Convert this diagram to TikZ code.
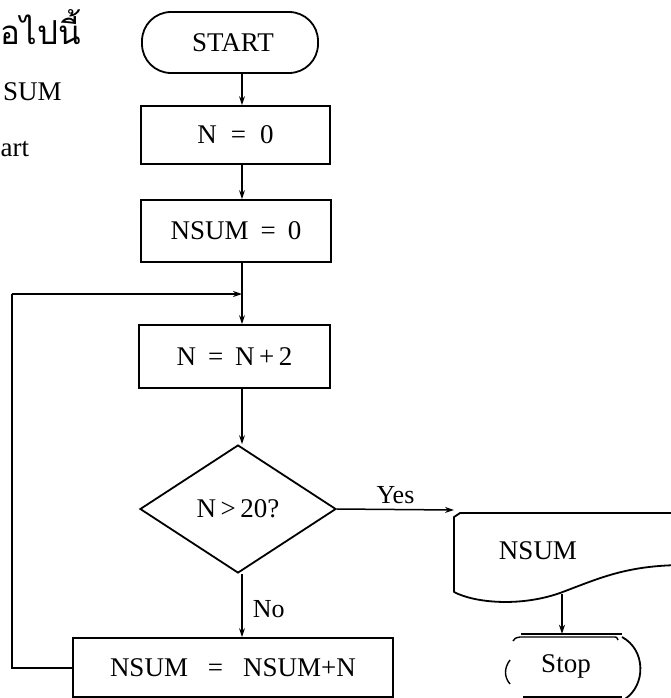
\documentclass[tikz,border=0pt]{standalone}
\usepackage{fontspec}
\setmainfont{Liberation Serif}
\newfontfamily\thaifont[Script=Thai]{Loma}
\usetikzlibrary{shapes.geometric,arrows.meta}

\begin{document}
\begin{tikzpicture}[x=1pt,y=-1pt,
    every node/.style={font=\fontsize{27}{30}\selectfont, inner sep=0pt},
    procbox/.style={draw, line width=1.8pt, minimum width=#1, minimum height=60pt},
    decision/.style={draw, line width=1.8pt, diamond, aspect=1.52,
                     minimum width=196pt, minimum height=128pt},
    flow/.style={line width=1.5pt, -{Stealth[length=9pt,width=6pt]}},
    shapeline/.style={line width=1.8pt, line join=round},
    lbl/.style={font=\fontsize{26}{30}\selectfont}]
  \useasboundingbox (0,0) rectangle (671,698);

  % text of the page beside the chart
  \node[anchor=base west, font=\thaifont\fontsize{33}{36}\selectfont] (th) at (0.5,45) {อไปนี้};
  \node[anchor=base west] (t1) at (3,101) {SUM};
  \node[anchor=base west] (t2) at (0.5,156) {art};

  % main column of the flowchart
  \coordinate (spine) at (242,0);
  \node[draw, line width=1.8pt, rounded corners=29pt, minimum width=176pt,
        minimum height=61pt] (start) at (230,42.5) {\hspace{6pt}START};
  \node[procbox=189pt, minimum height=58pt] (n0) at (235.5,135) {N\hspace{14pt}=\hspace{14pt}0};
  \node[procbox=190pt, minimum height=62pt] (s0) at (236,231) {NSUM\hspace{12pt}=\hspace{12pt}0};
  \node[procbox=191pt, minimum height=63pt] (inc) at (234.5,356.5) {N\hspace{12pt}=\hspace{12pt}N\,+\,2};
  \node[decision] (dec) at (238,509) {N\,\textgreater\,20?};
  \node[procbox=320pt, minimum height=59pt] (acc) at (233,667.5) {NSUM\hspace{20pt}=\hspace{20pt}NSUM+N};

  \coordinate (merge) at (242,294);
  \draw[flow] (start.south -| spine) -- (n0.north -| spine);
  \draw[flow] (n0.south -| spine) -- (s0.north -| spine);
  \draw[flow] (s0.south -| spine) -- (inc.north -| spine);
  \draw[flow] (inc.south -| spine) -- (dec.north -| spine);
  \draw[flow] (dec.south -| spine) -- node[lbl, right=10pt, pos=0.55] (no) {No} (acc.north -| spine);

  % loop back from the sum to the increment
  \coordinate (lb) at (12,667.5);
  \coordinate (lt) at (12,294);
  \draw[line width=2pt] (acc.west) -- (lb) -- (lt);
  \draw[flow, line width=2pt] (lt) -- (merge);

  % output of the result
  \node (out) at (538,551) {NSUM};
  \draw[shapeline] (680,513) -- (460,513) -- (454,517) -- (454,592)
      .. controls (475,603) and (520,607) .. (560,593)
      .. controls (600,578) and (625,566) .. (680,565);
  \coordinate (outl) at (454,510);
  \coordinate (outb) at (562,594);
  \draw[flow] (dec.east) -- node[lbl, above=5pt] (yes) {Yes} (outl);

  % end terminal
  \node[minimum height=64pt] (stop) at (566,666) {Stop};
  \draw[shapeline] (521,634) -- (622,634);
  \draw[line width=1.4pt] (513,641) .. controls (515,638) .. (520,637) -- (613,637) .. controls (617,637) .. (618,640);
  \draw[shapeline] (622,637) .. controls (646,650) and (646,685) .. (625,699);
  \draw[shapeline] (523,697) -- (622,697);
  \draw[line width=1.4pt] (510,660) .. controls (504,668) and (504,677) .. (510,684);
  \draw[flow] (outb) -- (stop.north -| outb);
\end{tikzpicture}
\end{document}
